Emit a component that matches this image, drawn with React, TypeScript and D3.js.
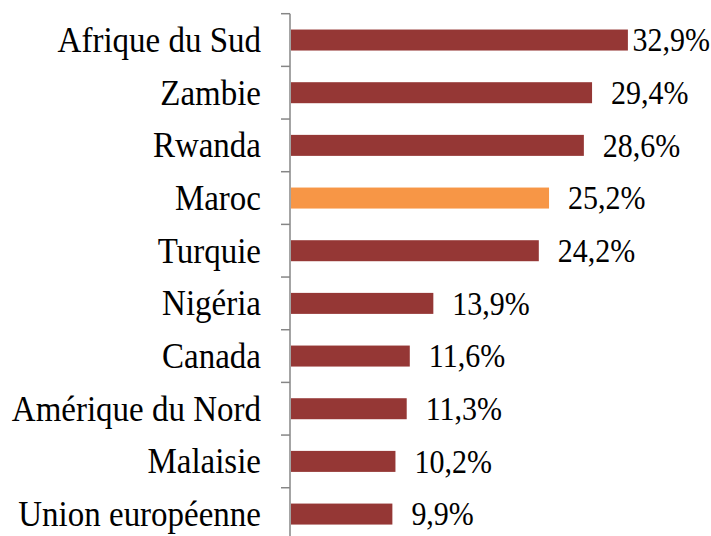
import React from "react";
import * as d3 from "d3";

const categories = [
  "Afrique du Sud",
  "Zambie",
  "Rwanda",
  "Maroc",
  "Turquie",
  "Nigéria",
  "Canada",
  "Amérique du Nord",
  "Malaisie",
  "Union européenne",
];
const values = [32.9, 29.4, 28.6, 25.2, 24.2, 13.9, 11.6, 11.3, 10.2, 9.9];
const highlight = "Maroc";

const W = 711;
const H = 536;
const SY = 1.1;
const FONT = "Liberation Serif, Times New Roman, Times, DejaVu Serif, serif";

function fmt(v: number) {
  return v.toFixed(1).replace(".", ",") + "%";
}
function estWidth(s: string, fs: number) {
  let w = 0;
  for (const ch of s) {
    if (ch === ",") w += 0.25;
    else if (ch === "%") w += 0.833;
    else w += 0.5;
  }
  return w * fs;
}

export default function App() {
  const x = d3.scaleLinear().domain([0, 35]).range([291, 291 + 358.4]);
  const y = d3
    .scaleBand<string>()
    .domain(categories)
    .range([13.7, 13.7 + 52.67 * categories.length])
    .paddingInner(0)
    .paddingOuter(0);
  const bw = y.bandwidth();
  const barH = 21;
  const catFs = 33;
  const valFs = 30;
  const tickYs = categories.map((c) => y(c)!).concat([y(categories[categories.length - 1])! + bw]);

  return (
    <svg
      width={W}
      height={H}
      style={{ position: "fixed", left: 0, top: 0, background: "#fff" }}
    >
      <rect x={0} y={0} width={W} height={H} fill="#fff" />
      {categories.map((c, i) => {
        const v = values[i];
        const cy = y(c)! + bw / 2;
        const x1 = x(v);
        const label = fmt(v);
        const lw = estWidth(label, valFs);
        const lx = Math.min(x1 + 19, W - 1 - lw);
        return (
          <g key={c}>
            <rect
              x={x(0)}
              y={cy - barH / 2}
              width={x1 - x(0)}
              height={barH}
              fill={c === highlight ? "#F79646" : "#953735"}
            />
            <text
              transform={`translate(${261},${cy + (0.662 * catFs * SY) / 2}) scale(1,${SY})`}
              textAnchor="end"
              style={{ fontFamily: FONT, fontSize: catFs }}
              fill="#000"
            >
              {c}
            </text>
            <text
              transform={`translate(${lx},${cy + (0.676 * valFs * SY) / 2}) scale(1,${SY})`}
              textAnchor="start"
              style={{ fontFamily: FONT, fontSize: valFs }}
              fill="#000"
            >
              {label}
            </text>
          </g>
        );
      })}
      <line x1={290} x2={290} y1={13.7} y2={H + 10} stroke="#868686" strokeWidth={1.5} />
      {tickYs.map((t, i) => (
        <line key={i} x1={281} x2={290} y1={t} y2={t} stroke="#868686" strokeWidth={1.5} />
      ))}
    </svg>
  );
}
